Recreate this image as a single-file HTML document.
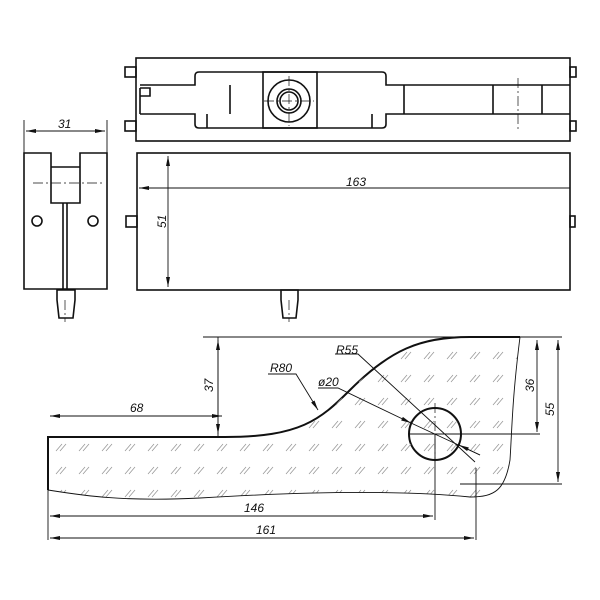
<!DOCTYPE html>
<html><head><meta charset="utf-8"><style>html,body{margin:0;padding:0;background:#fff}svg{display:block}text{font-family:"Liberation Sans",sans-serif;font-style:italic;font-size:12px;fill:#111}</style></head>
<body>
<svg width="600" height="600" viewBox="0 0 600 600" xmlns="http://www.w3.org/2000/svg">
<defs>
<marker id="a" viewBox="0 0 10 4" refX="10" refY="2" markerWidth="10" markerHeight="4" orient="auto-start-reverse" markerUnits="userSpaceOnUse"><path d="M0,0L10,2L0,4z" fill="#111"/></marker>
<pattern id="h" width="23" height="23" patternUnits="userSpaceOnUse" x="8" y="4"><path d="M2,10L8,3M6,10L12,3" stroke="#999" stroke-width="0.8"/></pattern>
<clipPath id="c"><path d="M48,437 L225,437 C300,437 320,420 350,390 C390,350 420,337 470,337 L520,337 C512,400 512,430 510,460 C505,490 495,497 470,497 C400,490 300,492 200,498 C120,502 80,495 48,490 Z"/></clipPath>
</defs>
<g fill="none" stroke="#111" stroke-width="1.6">
<rect x="136" y="58" width="434" height="83"/>
<rect x="125" y="67" width="11" height="10"/><rect x="125" y="121" width="11" height="10"/>
<rect x="570" y="67" width="6" height="10"/><rect x="570" y="121" width="6" height="10"/>
<path d="M140,85 H195 V76 Q195,72 199,72 H382 Q386,72 386,76 V85 H570"/>
<path d="M140,114 H195 V124 Q195,128 199,128 H382 Q386,128 386,124 V114 H570"/>
<rect x="263" y="72" width="54" height="56"/>
<path d="M230,85V114M404,85V114M493,85V114M542,85V114M207,114V128M372,114V128"/>
<circle cx="289" cy="101" r="21"/><circle cx="289" cy="101" r="12"/><circle cx="289" cy="101" r="9"/>
<path d="M140,88H150V96H140M140,88V114"/>
<path d="M24,153H51V203H80V153H107V289H24Z"/>
<path d="M51,167H80"/>
<circle cx="37" cy="221" r="5"/><circle cx="93" cy="221" r="5"/>
<path d="M63,203V289M67,203V289"/>
<path d="M57,290H75V300L73,318H59L57,300Z"/>
<rect x="137" y="153" width="433" height="137"/>
<rect x="126" y="216" width="11" height="11"/>
<rect x="570" y="216" width="5" height="11"/>
<path d="M281,290H298V300L296,318H283L281,300Z"/>
<path d="M48,490V437H225C300,437 320,420 350,390C390,350 420,337 470,337H520" stroke-width="2"/>
<circle cx="435" cy="434" r="26" stroke-width="2"/>
</g>
<rect x="40" y="330" width="500" height="180" fill="url(#h)" clip-path="url(#c)"/>
<g fill="none" stroke="#111" stroke-width="0.9">
<path d="M520,337C512,400 512,430 510,460C505,490 495,497 470,497C400,490 300,492 200,498C120,502 80,495 48,490"/>
<path d="M203,337H562M460,484H562M218,337V437"/>
<path d="M24,120V153M107,120V153"/>
<path d="M26,131H105" marker-start="url(#a)" marker-end="url(#a)"/>
<path d="M139,188H570" marker-start="url(#a)"/>
<path d="M168,156V287" marker-start="url(#a)" marker-end="url(#a)"/>
<path d="M50,416H222" marker-start="url(#a)" marker-end="url(#a)"/>
<path d="M218,340V434" marker-start="url(#a)" marker-end="url(#a)"/>
<path d="M537,340V432" marker-start="url(#a)" marker-end="url(#a)"/>
<path d="M558,340V482" marker-start="url(#a)" marker-end="url(#a)"/>
<path d="M50,516H433" marker-start="url(#a)" marker-end="url(#a)"/>
<path d="M50,538H474" marker-start="url(#a)" marker-end="url(#a)"/>
<path d="M48,490V540M435,434V520M476,468V540M410,434H540"/>
<path d="M268,374H296L318,410" marker-end="url(#a)"/>
<path d="M318,388H338L411,423" marker-end="url(#a)"/>
<path d="M411,423L480,455"/>
<path d="M480,455L459,445" marker-end="url(#a)"/>
<path d="M335,354H358L475,462"/>
</g>
<g fill="none" stroke="#111" stroke-width="0.7" stroke-dasharray="10,3,2,3">
<path d="M289,76V126M264,101H314M518,78V130M33,183H104M65,300V322M289,300V322M435,403V462M410,434H462"/>
</g>
<text x="58" y="128">31</text>
<text x="346" y="186">163</text>
<text x="130" y="412">68</text>
<text x="244" y="512">146</text>
<text x="256" y="534">161</text>
<text x="270" y="372">R80</text>
<text x="336" y="354">R55</text>
<text x="318" y="386">ø20</text>
<text transform="translate(166,228) rotate(-90)">51</text>
<text transform="translate(213,392) rotate(-90)">37</text>
<text transform="translate(534,392) rotate(-90)">36</text>
<text transform="translate(554,416) rotate(-90)">55</text>
</svg>
</body></html>
